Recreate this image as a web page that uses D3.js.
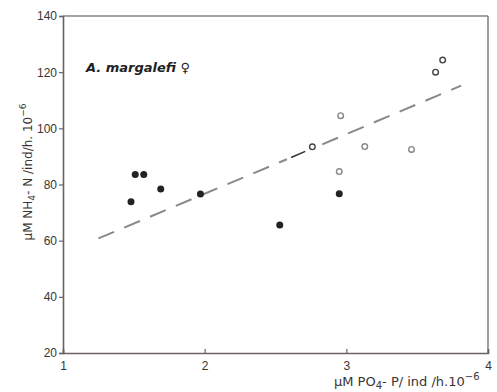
<!DOCTYPE html>
<html><head><meta charset="utf-8">
<script src="https://cdn.jsdelivr.net/npm/d3@7"></script>
<style>
html,body{margin:0;padding:0;background:#fff;}
svg{display:block;font-family:"DejaVu Sans",sans-serif;}
</style></head>
<body>
<script>
const xTicks = [1, 2, 3, 4];
const yTicks = [20, 40, 60, 80, 100, 120, 140];
const filledX = [1.48, 1.51, 1.57, 1.69, 1.97, 2.53, 2.95];
const filledY = [73.9, 83.6, 83.6, 78.4, 76.6, 65.6, 76.7];
const openX = [2.76, 2.95, 2.96, 3.13, 3.46, 3.63, 3.68];
const openY = [93.4, 84.6, 104.5, 93.5, 92.5, 120.0, 124.3];
const fitX = [1.25, 2.58];
const fitY = [60.8, 89.0];
const fit2X = [2.83, 3.81];
const fit2Y = [94.3, 115.2];
const solidX = [2.61, 2.71];
const solidY = [89.6, 91.8];

const W = 497, H = 392;
const m = {left: 63, right: 9, top: 16, bottom: 39};
const svg = d3.select("body").append("svg").attr("width", W).attr("height", H);
const x = d3.scaleLinear().domain([1, 4]).range([m.left, W - m.right]);
const y = d3.scaleLinear().domain([20, 140]).range([H - m.bottom, m.top]);
const axisCol = "#6a6262", textCol = "#3a3434";

// frame top & right
svg.append("line").attr("x1", x(1)).attr("x2", x(4)).attr("y1", y(140)).attr("y2", y(140))
  .attr("stroke", "#8a8484").attr("stroke-width", 1.6);
svg.append("line").attr("x1", x(4)).attr("x2", x(4)).attr("y1", y(140)).attr("y2", y(20))
  .attr("stroke", "#8a8484").attr("stroke-width", 1.6);

const yAxis = d3.axisLeft(y).tickValues(yTicks).tickSize(4).tickPadding(2).tickFormat(d3.format("d"));
const gy = svg.append("g").attr("transform", `translate(${x(1)},0)`).call(yAxis);
gy.select(".domain").attr("stroke", axisCol).attr("stroke-width", 1.6);
gy.selectAll(".tick line").attr("stroke", axisCol).attr("stroke-width", 1.2);
gy.selectAll(".tick text").attr("fill", textCol).style("font-size", "12px");

const xAxis = d3.axisBottom(x).tickValues(xTicks).tickSize(-4).tickPadding(8).tickFormat(d3.format("d"));
const gx = svg.append("g").attr("transform", `translate(0,${y(20)})`).call(xAxis);
gx.select(".domain").attr("stroke", axisCol).attr("stroke-width", 1.6);
gx.selectAll(".tick line").attr("stroke", axisCol).attr("stroke-width", 1.2);
gx.selectAll(".tick text").attr("fill", textCol).style("font-size", "12px");

// regression line
const line = d3.line().x(d => x(d[0])).y(d => y(d[1]));
svg.append("path").datum(fitX.map((v, i) => [v, fitY[i]])).attr("d", line)
  .attr("fill", "none").attr("stroke", "#8c8888").attr("stroke-width", 2).attr("stroke-dasharray", "17,11");
svg.append("path").datum(fit2X.map((v, i) => [v, fit2Y[i]])).attr("d", line)
  .attr("fill", "none").attr("stroke", "#8c8888").attr("stroke-width", 2).attr("stroke-dasharray", "17,11");
svg.append("path").datum(solidX.map((v, i) => [v, solidY[i]])).attr("d", line)
  .attr("fill", "none").attr("stroke", "#333").attr("stroke-width", 1.6);

// points
svg.selectAll(".f").data(filledX).enter().append("circle")
  .attr("cx", d => x(d)).attr("cy", (d, i) => y(filledY[i])).attr("r", 3.5).attr("fill", "#222");
svg.selectAll(".o").data(openX).enter().append("circle")
  .attr("cx", d => x(d)).attr("cy", (d, i) => y(openY[i])).attr("r", 2.8)
  .attr("fill", "#fff").attr("stroke", (d, i) => i === 0 || i >= 5 ? "#444" : "#888").attr("stroke-width", 1.4);

// species label
const t = svg.append("text").attr("x", 86).attr("y", 72).attr("fill", "#222")
  .style("font-size", "13px").style("font-style", "italic").style("font-weight", "bold");
t.append("tspan").text("A. margalefi ");
t.append("tspan").style("font-style", "normal").text("♀");

// x label
const xl = svg.append("text").attr("x", 334).attr("y", 386).attr("fill", textCol).style("font-size", "13px");
xl.append("tspan").text("μM PO");
xl.append("tspan").attr("dy", 3).style("font-size", "10px").text("4");
xl.append("tspan").attr("dy", -3).text("- P/ ind /h.10");
xl.append("tspan").attr("dy", -6).style("font-size", "10px").text("−6");

// y label
const yl = svg.append("text").attr("transform", "translate(32,172) rotate(-90)").attr("text-anchor", "middle")
  .attr("fill", textCol).style("font-size", "12px");
yl.append("tspan").text("μM NH");
yl.append("tspan").attr("dy", 3).style("font-size", "9px").text("4");
yl.append("tspan").attr("dy", -3).text("- N /ind/h. 10");
yl.append("tspan").attr("dy", -6).style("font-size", "9px").text("−6");
</script>
</body></html>
